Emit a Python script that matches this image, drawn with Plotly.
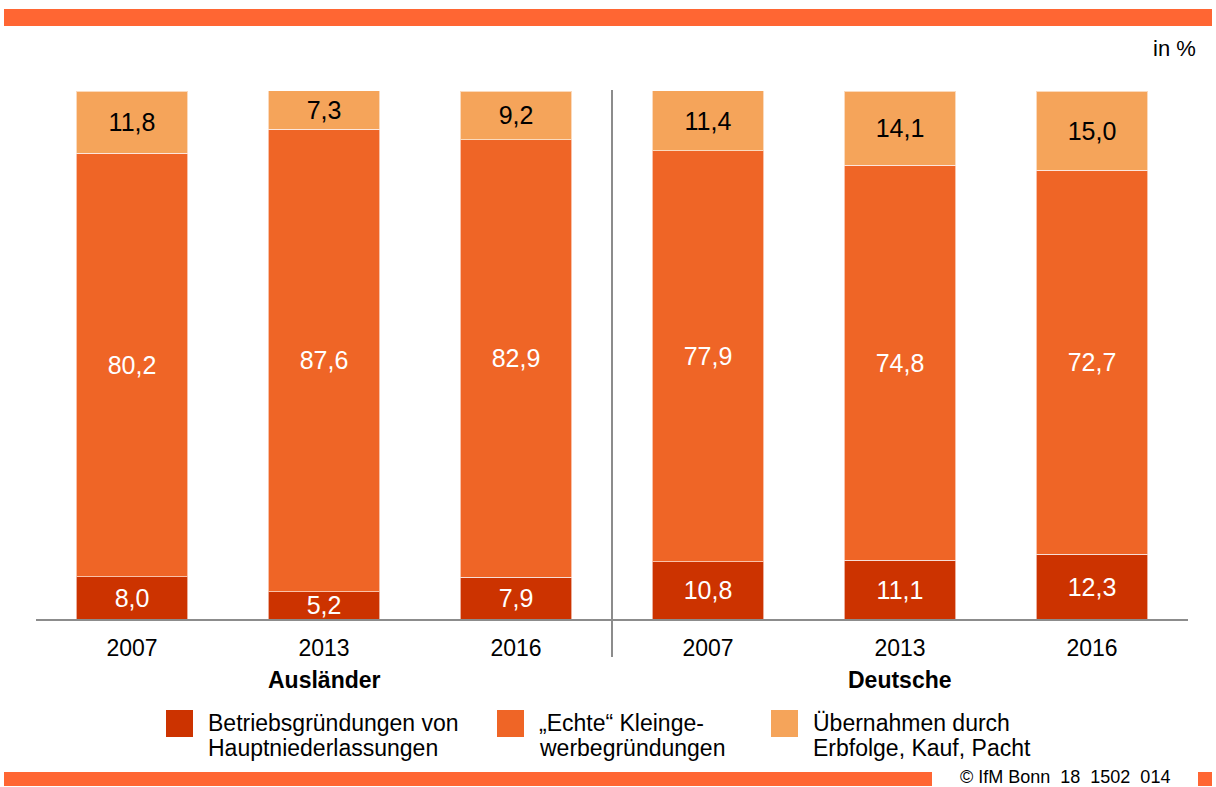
import plotly.graph_objects as go

# ── data ─────────────────────────────────────────────────────────────────────
years = ["2007", "2013", "2016", "2007", "2013", "2016"]
groups = ["Ausländer", "Deutsche"]

haupt = [8.0, 5.2, 7.9, 10.8, 11.1, 12.3]          # Betriebsgründungen von Hauptniederlassungen
klein = [80.2, 87.6, 82.9, 77.9, 74.8, 72.7]       # "Echte" Kleingewerbegründungen
uebern = [11.8, 7.3, 9.2, 11.4, 14.1, 15.0]        # Übernahmen durch Erbfolge, Kauf, Pacht

series_names = [
    ["Betriebsgründungen von", "Hauptniederlassungen"],
    ["„Echte“ Kleinge-", "werbegründungen"],
    ["Übernahmen durch", "Erbfolge, Kauf, Pacht"],
]
colors = ["#CC3300", "#EF6526", "#F5A45A"]
label_colors = ["white", "white", "black"]

FONT = "Liberation Sans, Arial, sans-serif"
xpos = list(range(len(years)))


def fmt(v):
    return f"{v:.1f}".replace(".", ",")


fig = go.Figure()
for vals, name, col, lc in zip([haupt, klein, uebern], series_names, colors, label_colors):
    fig.add_trace(go.Bar(
        x=xpos, y=vals, name=" ".join(name),
        marker=dict(color=col, line=dict(color="rgba(255,255,255,0.6)", width=1)),
        width=0.583,
        text=[fmt(v) for v in vals],
        textposition="inside", insidetextanchor="middle",
        textfont=dict(family=FONT, size=25, color=lc),
        textangle=0,
        hoverinfo="skip",
        showlegend=False,
    ))

fig.update_layout(
    width=1216, height=787,
    barmode="stack",
    plot_bgcolor="white", paper_bgcolor="white",
    margin=dict(l=36, r=28, t=91, b=168),
    font=dict(family=FONT, size=23, color="black"),
    uniformtext=dict(minsize=25, mode="show"),
    xaxis=dict(
        range=[-0.5, 5.5], tickvals=xpos, ticktext=years,
        showline=True, linecolor="#8c8c8c", linewidth=2,
        showgrid=False, zeroline=False, ticks="",
        tickfont=dict(size=23), ticklabelstandoff=7,
        fixedrange=True,
    ),
    yaxis=dict(range=[0, 100], visible=False, fixedrange=True),
)

# ── decorations: bars at top/bottom, separator, legend, labels ──────────────
def px_x(p):
    return (p - 36) / 1152


def px_y(p):
    return (619 - p) / 528


shapes = [
    dict(type="rect", xref="paper", yref="paper", x0=px_x(4), x1=px_x(1212),
         y0=px_y(26), y1=px_y(9), fillcolor="#FF6633", line_width=0),
    dict(type="rect", xref="paper", yref="paper", x0=px_x(4), x1=px_x(932),
         y0=px_y(786), y1=px_y(772), fillcolor="#FF6633", line_width=0),
    dict(type="rect", xref="paper", yref="paper", x0=px_x(1198), x1=px_x(1212),
         y0=px_y(786), y1=px_y(772), fillcolor="#FF6633", line_width=0),
    dict(type="line", xref="paper", yref="paper", x0=0.5, x1=0.5,
         y0=px_y(657), y1=px_y(90), line=dict(color="#8c8c8c", width=2)),
]

legend_sq = [166, 497, 771]
for x0, col, lines in zip(legend_sq, colors, series_names):
    shapes.append(dict(type="rect", xref="paper", yref="paper",
                       x0=px_x(x0), x1=px_x(x0 + 27), y0=px_y(737), y1=px_y(710),
                       fillcolor=col, line_width=0))
    for ly, line in zip([723, 748], lines):
        fig.add_annotation(xref="paper", yref="paper", x=px_x(x0 + 40), y=px_y(ly),
                           text=line, showarrow=False, xanchor="left", yanchor="middle",
                           align="left", font=dict(size=23))

fig.update_layout(shapes=shapes)

for gx, g in zip([1, 4], groups):
    fig.add_annotation(x=gx, xref="x", yref="paper", y=px_y(680), text=f"<b>{g}</b>",
                       showarrow=False, yanchor="middle", font=dict(size=23))

fig.add_annotation(xref="paper", yref="paper", x=px_x(1198), y=px_y(49), text="in %",
                   showarrow=False, xanchor="right", yanchor="middle", font=dict(size=22))
fig.add_annotation(xref="paper", yref="paper", x=px_x(1065), y=px_y(777),
                   text="© IfM Bonn\u00a0 18\u00a0 1502\u00a0 014", showarrow=False,
                   xanchor="center", yanchor="middle", font=dict(size=18))

fig.write_html("out.html", config={"displayModeBar": False},
               post_script="document.body.style.margin='0';")
